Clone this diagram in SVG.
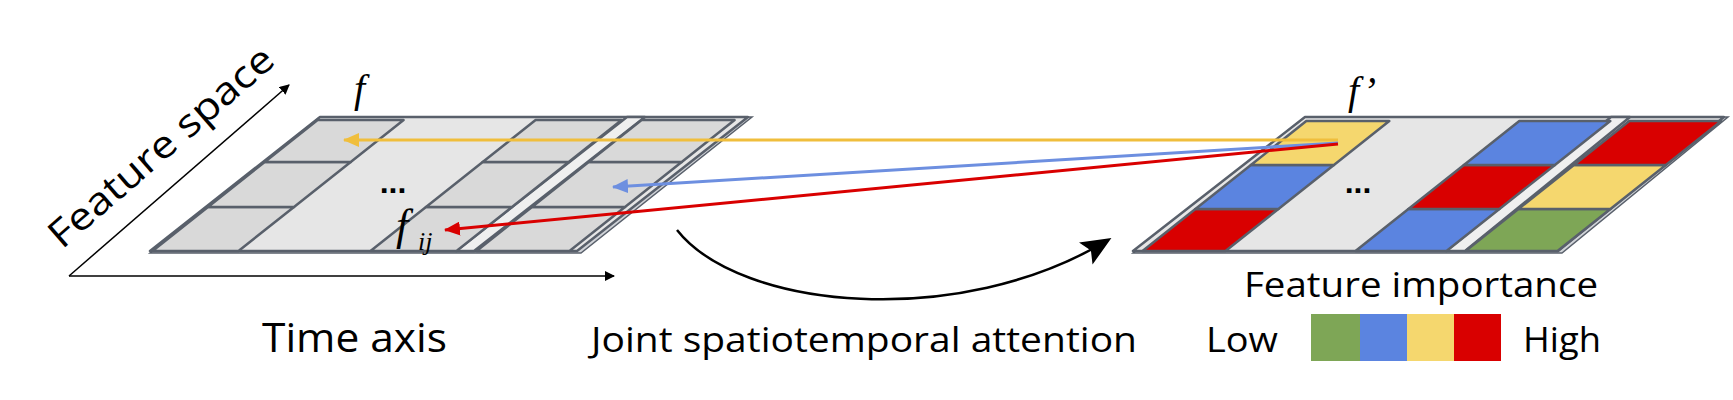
<svg xmlns="http://www.w3.org/2000/svg" width="1733" height="400" viewBox="0 0 1733 400">
<style>
.plane{fill:#e6e6e6;stroke:#59606b;stroke-width:2.5;stroke-linejoin:round}
.shadow{fill:#d0d3d8;stroke:#59606b;stroke-width:1.5}
.cell{stroke:#59606b;stroke-width:2.5;stroke-linejoin:round}
.g{fill:#d9d9d9}.Y{fill:#f5d76e}.B{fill:#5b84e0}.R{fill:#d90000}.G{fill:#7ea656}
.t{font-family:"Open Sans","Liberation Sans",sans-serif;fill:#000}
.m{font-family:"Liberation Serif",serif;font-style:italic;fill:#000}
.dots{font-family:"Liberation Sans",sans-serif;font-weight:bold;fill:#000}
</style>
<defs>
<marker id="aK" markerWidth="10" markerHeight="10" refX="9" refY="5" orient="auto" markerUnits="userSpaceOnUse" viewBox="0 0 10 10"><path d="M0,0L10,5L0,10z" fill="#000"/></marker>
<marker id="aY" markerWidth="16" markerHeight="14" refX="15" refY="7" orient="auto" markerUnits="userSpaceOnUse"><path d="M0,0L16,7L0,14z" fill="#f0be3c"/></marker>
<marker id="aB" markerWidth="16" markerHeight="14" refX="15" refY="7" orient="auto" markerUnits="userSpaceOnUse"><path d="M0,0L16,7L0,14z" fill="#6d8fe0"/></marker>
<marker id="aR" markerWidth="16" markerHeight="14" refX="15" refY="7" orient="auto" markerUnits="userSpaceOnUse"><path d="M0,0L16,7L0,14z" fill="#d90000"/></marker>
<marker id="aBig" markerWidth="30" markerHeight="26" refX="26" refY="13" orient="auto" markerUnits="userSpaceOnUse"><path d="M0,0L30,13L0,26L6,13z" fill="#000"/></marker>
</defs>

<g id="axes">
<line x1="69" y1="276" x2="289" y2="85" stroke="#000" stroke-width="1.5" marker-end="url(#aK)"/>
<line x1="69" y1="276" x2="614" y2="276" stroke="#000" stroke-width="1.5" marker-end="url(#aK)"/>
<text class="t" transform="translate(62,250) rotate(-41)" font-size="38" textLength="285" lengthAdjust="spacingAndGlyphs">Feature space</text>
<text class="t" x="262" y="352" font-size="40" textLength="185" lengthAdjust="spacingAndGlyphs">Time axis</text>
</g>

<g id="feature-f">
<polygon class="shadow" points="150,253 581,253 752,117 320,117"/>
<polygon class="plane" points="150,251 577,251 748,117 320,117"/>
<polygon class="plane" points="456,251 474,251 645,117 627,117" style="fill:#efefef"/>
<polygon class="cell g" points="152.5,251 238.5,251 294,207 208,207"/>
<polygon class="cell g" points="208,207 294,207 350.7,162 264.7,162"/>
<polygon class="cell g" points="264.7,162 350.7,162 403.6,120 317.6,120"/>
<polygon class="cell g" points="370.5,251 456.5,251 512,207 426,207"/>
<polygon class="cell g" points="426,207 512,207 568.7,162 482.7,162"/>
<polygon class="cell g" points="482.7,162 568.7,162 621.6,120 535.6,120"/>
<polygon class="cell g" points="476.5,251 569.5,251 625,207 532,207"/>
<polygon class="cell g" points="532,207 625,207 681.7,162 588.7,162"/>
<polygon class="cell g" points="588.7,162 681.7,162 734.6,120 641.6,120"/>
<text class="dots" x="393" y="193" font-size="32" text-anchor="middle">...</text>
<text class="m" x="354" y="102" font-size="40">f</text>
<text class="m" x="396" y="240" font-size="44">f</text>
<text class="m" x="418" y="250" font-size="26">ij</text>
</g>

<g id="feature-f-prime">
<polygon class="shadow" points="1133,253 1562,253 1728,117 1305,117"/>
<polygon class="plane" points="1133,251 1558,251 1724,117 1305,117"/>
<polygon class="plane" points="1446,251 1465,251 1630,117 1611,117" style="fill:#efefef"/>
<polygon class="cell R" points="1142.5,251 1225.5,251 1278.4,209 1195.4,209"/>
<polygon class="cell B" points="1195.4,209 1278.4,209 1333.9,165 1250.9,165"/>
<polygon class="cell Y" points="1250.9,165 1333.9,165 1389.3,121 1306.3,121"/>
<polygon class="cell B" points="1355.5,251 1446.5,251 1499.4,209 1408.4,209"/>
<polygon class="cell R" points="1408.4,209 1499.4,209 1554.9,165 1463.9,165"/>
<polygon class="cell B" points="1463.9,165 1554.9,165 1610.3,121 1519.3,121"/>
<polygon class="cell G" points="1465.5,251 1557.5,251 1610.4,209 1518.4,209"/>
<polygon class="cell Y" points="1518.4,209 1610.4,209 1665.9,165 1573.9,165"/>
<polygon class="cell R" points="1573.9,165 1665.9,165 1721.3,121 1629.3,121"/>
<text class="dots" x="1358" y="193" font-size="32" text-anchor="middle">...</text>
<text class="m" x="1348" y="104" font-size="40">f’</text>
</g>

<g id="connectors" fill="none">
<line x1="1338" y1="140" x2="344" y2="140" stroke="#f0be3c" stroke-width="3" marker-end="url(#aY)"/>
<line x1="1338" y1="143" x2="613" y2="187" stroke="#6d8fe0" stroke-width="3" marker-end="url(#aB)"/>
<line x1="1338" y1="144" x2="445" y2="230" stroke="#d90000" stroke-width="3" marker-end="url(#aR)"/>
<path d="M677,230 C740,310 960,330 1108,240" stroke="#000" stroke-width="2.5" marker-end="url(#aBig)"/>
</g>

<g id="labels">
<text class="t" x="591" y="352" font-size="35" textLength="546" lengthAdjust="spacingAndGlyphs">Joint spatiotemporal attention</text>
<text class="t" x="1244" y="297" font-size="35" textLength="354" lengthAdjust="spacingAndGlyphs">Feature importance</text>
<text class="t" x="1206" y="352" font-size="35" textLength="72" lengthAdjust="spacingAndGlyphs">Low</text>
<text class="t" x="1523" y="352" font-size="35" textLength="78" lengthAdjust="spacingAndGlyphs">High</text>
</g>

<g id="legend">
<rect x="1311" y="314" width="49" height="47" fill="#7ea656"/>
<rect x="1360" y="314" width="47" height="47" fill="#5b84e0"/>
<rect x="1407" y="314" width="47" height="47" fill="#f5d76e"/>
<rect x="1454" y="314" width="47" height="47" fill="#d90000"/>
</g>
</svg>
